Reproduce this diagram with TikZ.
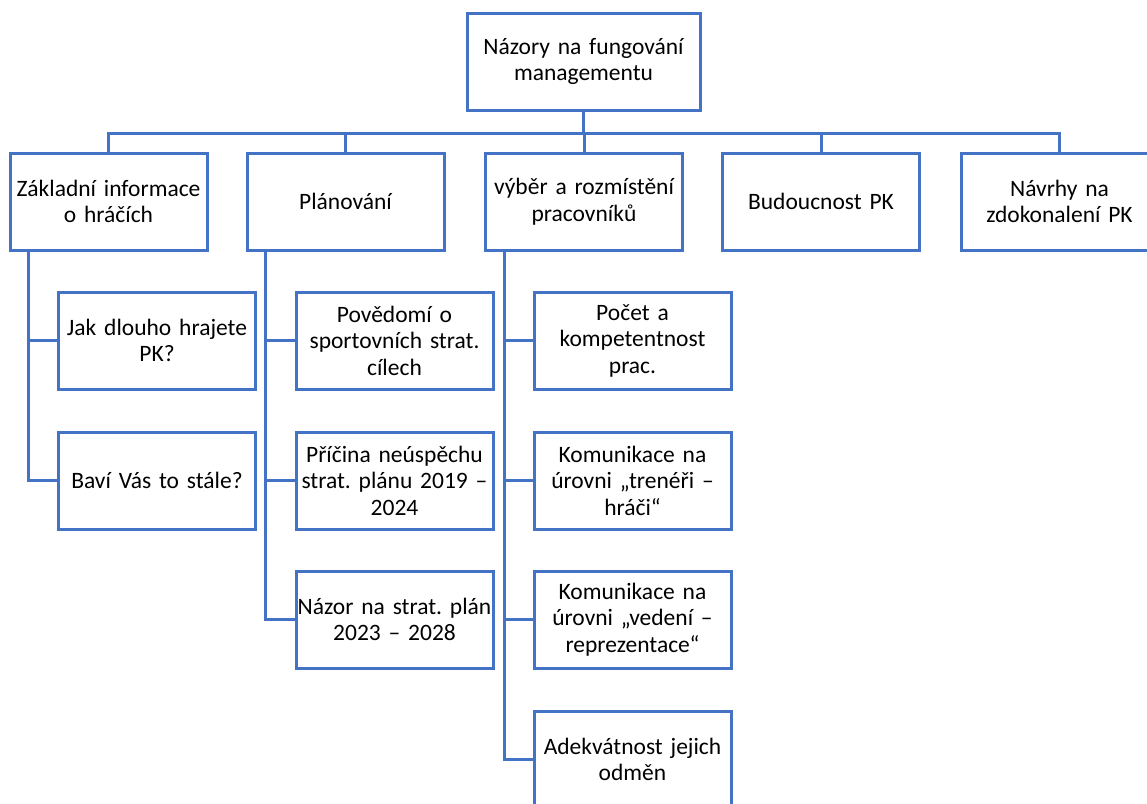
\documentclass[tikz,border=0pt]{standalone}
\usepackage{fontspec}
\setmainfont{Carlito}
\usepackage{tikz}
\definecolor{boxblue}{HTML}{4472C4}
\frenchspacing

\begin{document}
\begin{tikzpicture}[x=1pt,y=-1pt,
        topic/.style={draw=boxblue,line width=3pt,fill=white,align=center,
            text width=197pt,minimum height=97pt,inner xsep=0pt,inner ysep=2pt,
            font=\fontsize{23.5}{26.5}\selectfont},
        link/.style={draw=boxblue,line width=3pt}]
        \useasboundingbox (0,0) rectangle (1147,803);
        \clip (0,0) rectangle (1147,803);

        % Root
        \node [topic,text width=233pt] (root) at (583.5,61.5) {Názory na fungování\\managementu};

        % First level
        \node [topic] (info) at (108.5,201.5) {Základní informace\\o hráčích};
        \node [topic] (plan) at (345.5,201.5) {Plánování};
        \node [topic] (vyber) at (584,201.5) {výběr a rozmístění\\pracovníků};
        \node [topic] (budo) at (821,201.5) {Budoucnost PK};
        \node [topic] (navrh) at (1059.5,201.5) {Návrhy na\\zdokonalení PK};

        % Players
        \node [topic] (info1) at (157,340.5) {Jak dlouho hrajete\\PK?};
        \node [topic] (info2) at (157,480.5) {Baví Vás to stále?};

        % Planning
        \node [topic] (plan1) at (394.5,340.5) {Povědomí o\\sportovních strat.\\cílech};
        \node [topic] (plan2) at (394.5,480.5) {Příčina neúspěchu\\strat. plánu 2019 –\\2024};
        \node [topic] (plan3) at (394.5,619.5) {Názor na strat. plán\\2023 – 2028};

        % Staff
        \node [topic] (vyber1) at (632.5,340.5) {Počet a\\kompetentnost\\prac.};
        \node [topic] (vyber2) at (632.5,480.5) {Komunikace na\\úrovni „trenéři –\\hráči“};
        \node [topic] (vyber3) at (632.5,619.5) {Komunikace na\\úrovni „vedení –\\reprezentace“};
        \node [topic] (vyber4) at (632.5,759.5) {Adekvátnost jejich\\odměn};

        % Bus
        \foreach \n in {info,plan,vyber,budo,navrh}
            \draw [link] (root.south) -- ++(0,21.5) -| (\n.north);

        % Trunks
        \foreach \n/\k in {info/info1,info/info2,plan/plan1,plan/plan2,plan/plan3,
                vyber/vyber1,vyber/vyber2,vyber/vyber3,vyber/vyber4}
            \draw [link] (\n.south west) ++(20,0) |- (\k.west);
    \end{tikzpicture}
\end{document}
